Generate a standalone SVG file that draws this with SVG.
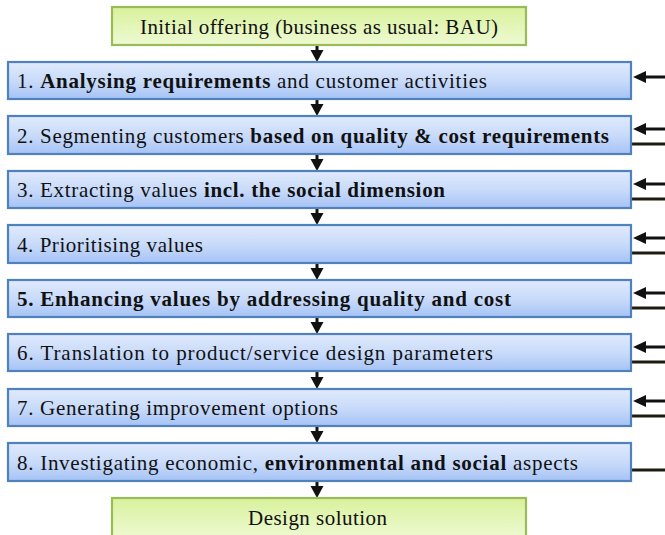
<svg xmlns="http://www.w3.org/2000/svg" width="665" height="535" viewBox="0 0 665 535">
  <defs>
    <linearGradient id="gBlue" x1="0" y1="0" x2="0" y2="1">
      <stop offset="0" stop-color="#e0eafc"/>
      <stop offset="0.5" stop-color="#c9dbfa"/>
      <stop offset="1" stop-color="#a6c3f5"/>
    </linearGradient>
    <linearGradient id="gGreen" x1="0" y1="0" x2="0" y2="1">
      <stop offset="0" stop-color="#d8f19c"/>
      <stop offset="1" stop-color="#eefad2"/>
    </linearGradient>
    <marker id="headL" viewBox="0 0 13 12" refX="1" refY="6" markerWidth="13" markerHeight="12" markerUnits="userSpaceOnUse" orient="auto">
      <path d="M13,6 L0,0 L0,12 Z" fill="#111"/>
    </marker>
  </defs>
  <style>
    .step rect { fill: url(#gBlue); stroke: #4f81bd; stroke-width: 2.2; }
    .term rect { fill: url(#gGreen); stroke: #9bbb59; stroke-width: 2.2; }
    text { font-family: "Liberation Serif", "DejaVu Serif", serif; font-size: 21px; fill: #111; }
    .b { font-weight: bold; }
    .down line { stroke: #111; stroke-width: 3; }
    .down path { fill: #111; }
    .feed { stroke: #111; stroke-width: 3; }
    .out { stroke: #1e1c10; stroke-width: 3; }
  </style>

  <!-- vertical flow connectors -->
  <g id="connectors" class="down">
    <line x1="317" y1="45" x2="317" y2="51"/><path d="M310.5,50 L323.5,50 L317,62 Z"/>
    <line x1="317" y1="99" x2="317" y2="105"/><path d="M310.5,104 L323.5,104 L317,116 Z"/>
    <line x1="317" y1="154" x2="317" y2="160"/><path d="M310.5,159 L323.5,159 L317,171 Z"/>
    <line x1="317" y1="208" x2="317" y2="214"/><path d="M310.5,213 L323.5,213 L317,225 Z"/>
    <line x1="317" y1="263" x2="317" y2="269"/><path d="M310.5,268 L323.5,268 L317,280 Z"/>
    <line x1="317" y1="317" x2="317" y2="323"/><path d="M310.5,322 L323.5,322 L317,334 Z"/>
    <line x1="317" y1="371" x2="317" y2="378"/><path d="M310.5,377 L323.5,377 L317,389 Z"/>
    <line x1="317" y1="426" x2="317" y2="432"/><path d="M310.5,431 L323.5,431 L317,443 Z"/>
    <line x1="317" y1="481" x2="317" y2="487"/><path d="M310.5,486 L323.5,486 L317,498 Z"/>
  </g>

  <!-- side inputs (arrows) and outputs (plain lines) -->
  <g id="side-links">
    <line class="feed" x1="665" y1="77" x2="645" y2="77" marker-end="url(#headL)"/>
    <line class="feed" x1="665" y1="129" x2="645" y2="129" marker-end="url(#headL)"/>
    <line class="out" x1="632" y1="144" x2="665" y2="144"/>
    <line class="feed" x1="665" y1="184" x2="645" y2="184" marker-end="url(#headL)"/>
    <line class="out" x1="632" y1="199" x2="665" y2="199"/>
    <line class="feed" x1="665" y1="238" x2="645" y2="238" marker-end="url(#headL)"/>
    <line class="out" x1="632" y1="253" x2="665" y2="253"/>
    <line class="feed" x1="665" y1="293" x2="645" y2="293" marker-end="url(#headL)"/>
    <line class="out" x1="632" y1="308" x2="665" y2="308"/>
    <line class="feed" x1="665" y1="347" x2="645" y2="347" marker-end="url(#headL)"/>
    <line class="out" x1="632" y1="362" x2="665" y2="362"/>
    <line class="feed" x1="665" y1="401" x2="645" y2="401" marker-end="url(#headL)"/>
    <line class="out" x1="632" y1="416" x2="665" y2="416"/>
    <line class="out" x1="632" y1="470" x2="665" y2="470"/>
  </g>

  <g id="start" class="term">
    <rect x="112" y="7" width="414" height="38"/>
    <text x="140" y="34" textLength="358" lengthAdjust="spacing">Initial offering (business as usual: BAU)</text>
  </g>

  <g id="step1" class="step">
    <rect x="8" y="62" width="623" height="37"/>
    <text x="17" y="88" textLength="470" lengthAdjust="spacing">1. <tspan class="b">Analysing requirements</tspan>  and customer activities</text>
  </g>
  <g id="step2" class="step">
    <rect x="8" y="116" width="623" height="38"/>
    <text x="17" y="143" textLength="592" lengthAdjust="spacing">2. Segmenting customers <tspan class="b">based on quality &amp; cost requirements</tspan></text>
  </g>
  <g id="step3" class="step">
    <rect x="8" y="171" width="623" height="37"/>
    <text x="17" y="197" textLength="428" lengthAdjust="spacing">3. Extracting values <tspan class="b">incl. the social dimension</tspan></text>
  </g>
  <g id="step4" class="step">
    <rect x="8" y="225" width="623" height="38"/>
    <text x="17" y="252" textLength="186" lengthAdjust="spacing">4. Prioritising values</text>
  </g>
  <g id="step5" class="step">
    <rect x="8" y="280" width="623" height="37"/>
    <text x="17" y="306" class="b" textLength="494" lengthAdjust="spacing">5. Enhancing values by addressing quality and cost</text>
  </g>
  <g id="step6" class="step">
    <rect x="8" y="334" width="623" height="37"/>
    <text x="17" y="360" textLength="476" lengthAdjust="spacing">6. Translation to product/service design parameters</text>
  </g>
  <g id="step7" class="step">
    <rect x="8" y="389" width="623" height="37"/>
    <text x="17" y="415" textLength="321" lengthAdjust="spacing">7. Generating improvement options</text>
  </g>
  <g id="step8" class="step">
    <rect x="8" y="443" width="623" height="38"/>
    <text x="17" y="470" textLength="561" lengthAdjust="spacing">8. Investigating economic, <tspan class="b">environmental and social</tspan> aspects</text>
  </g>

  <g id="end" class="term">
    <rect x="112" y="498" width="414" height="40"/>
    <text x="248" y="525" textLength="139" lengthAdjust="spacing">Design solution</text>
  </g>
</svg>
